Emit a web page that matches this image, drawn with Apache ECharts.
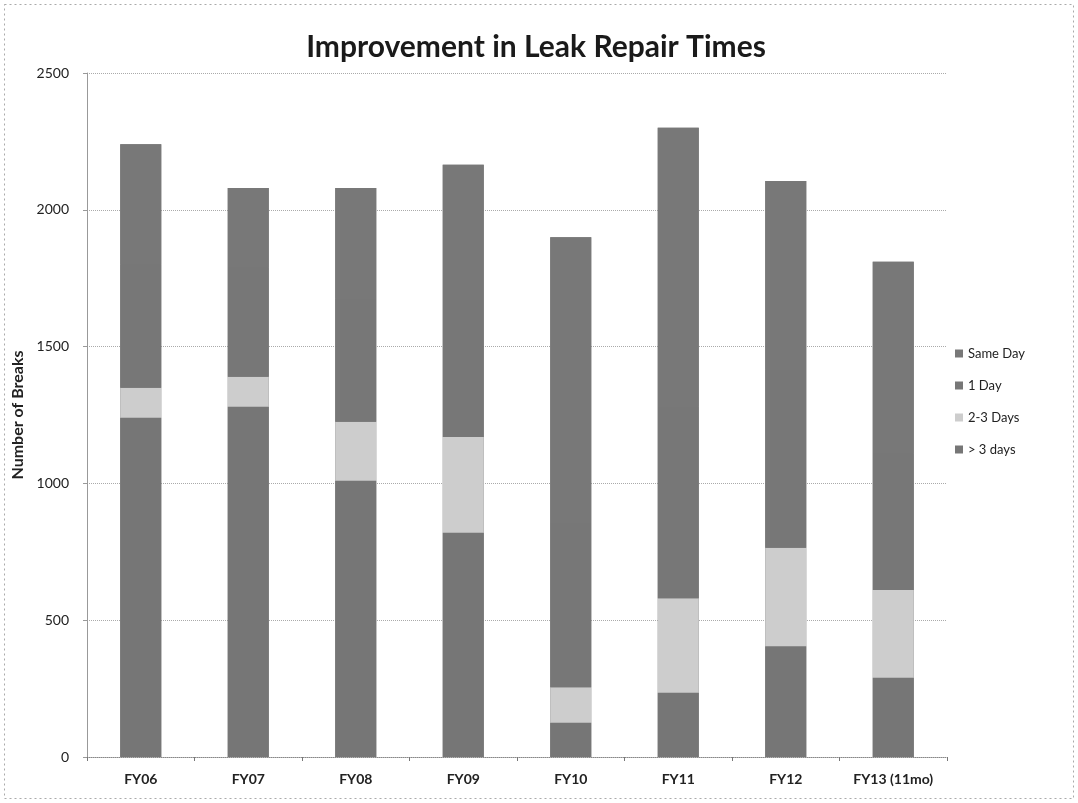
<!DOCTYPE html>
<html>
<head>
<meta charset="utf-8">
<script src="https://cdn.jsdelivr.net/npm/echarts@6/dist/echarts.min.js"></script>
<style>
  html, body { margin: 0; padding: 0; background: #fff; }
  #chart { width: 1078px; height: 803px; }
</style>
</head>
<body>
<div id="chart"></div>
<script>
// Fiscal years shown on the category axis
const categories = ['FY06', 'FY07', 'FY08', 'FY09', 'FY10', 'FY11', 'FY12', 'FY13 (11mo)'];

// Number of breaks by repair time, stacked from the bottom up
const overThreeDays = [1240, 1280, 1010, 820, 125, 235, 405, 290];
const twoToThreeDays = [110, 110, 215, 350, 130, 345, 360, 320];
const oneDay = [450, 400, 450, 500, 600, 700, 650, 500];
const sameDay = [440, 290, 405, 495, 1045, 1020, 690, 700];

const yTicks = [0, 500, 1000, 1500, 2000, 2500];

const FONT = 'Lato, "Open Sans", "Liberation Sans", sans-serif';
const BAR_WIDTH = 41;

// Yearly totals, used for a backing column so the stacked segments join without seams
const totals = categories.map((_, i) => overThreeDays[i] + twoToThreeDays[i] + oneDay[i] + sameDay[i]);

const chart = echarts.init(document.getElementById('chart'));

function barSeries(name, data, color) {
  return {
    name: name,
    type: 'bar',
    stack: 'breaks',
    data: data,
    barWidth: BAR_WIDTH,
    barGap: '-100%',
    z: 3,
    itemStyle: { color: color },
    emphasis: { disabled: true }
  };
}

chart.setOption({
  animation: false,
  backgroundColor: '#ffffff',
  title: {
    text: 'Improvement in Leak Repair Times',
    left: 531,
    textAlign: 'center',
    top: 27,
    textStyle: { fontFamily: FONT, fontWeight: 'bold', fontSize: 30, color: '#1a1a1a' }
  },
  legend: {
    orient: 'vertical',
    left: 950,
    top: 342,
    itemWidth: 8,
    itemHeight: 8,
    itemGap: 19,
    icon: 'rect',
    data: ['Same Day', '1 Day', '2-3 Days', '> 3 days'],
    textStyle: { fontFamily: FONT, fontSize: 13, color: '#222' }
  },
  grid: { left: 87, right: 131, top: 73, bottom: 46, containLabel: false },
  xAxis: {
    type: 'category',
    data: categories,
    axisLine: { show: true, lineStyle: { color: '#888', type: 'dotted', width: 1 } },
    axisTick: { show: true, alignWithLabel: false, length: 4, lineStyle: { color: '#777' } },
    axisLabel: { fontFamily: FONT, fontWeight: 'bold', fontSize: 14, color: '#222', margin: 15 }
  },
  yAxis: {
    type: 'value',
    min: yTicks[0],
    max: yTicks[yTicks.length - 1],
    interval: yTicks[1] - yTicks[0],
    name: 'Number of Breaks',
    nameLocation: 'middle',
    nameGap: 60,
    nameTextStyle: { fontFamily: FONT, fontWeight: 'bold', fontSize: 16, color: '#222' },
    axisLine: { show: true, lineStyle: { color: '#999', width: 1 } },
    axisTick: { show: true, length: 4, lineStyle: { color: '#999' } },
    axisLabel: {
      fontFamily: FONT, fontSize: 14, color: '#222', margin: 18,
      formatter: (v) => String(v)
    },
    splitLine: { show: true, lineStyle: { color: '#aaa', type: 'dotted', width: 1 } }
  },
  series: [
    {
      name: 'Total',
      type: 'bar',
      data: totals,
      barWidth: BAR_WIDTH,
      barGap: '-100%',
      z: 2,
      silent: true,
      itemStyle: { color: '#777777' },
      emphasis: { disabled: true }
    },
    barSeries('> 3 days', overThreeDays, '#767676'),
    barSeries('2-3 Days', twoToThreeDays, '#cdcdcd'),
    barSeries('1 Day', oneDay, '#777777'),
    barSeries('Same Day', sameDay, '#787878')
  ],
  graphic: [{
    type: 'rect',
    shape: { x: 4.5, y: 4.5, width: 1069, height: 794 },
    style: { fill: 'none', stroke: '#aaa', lineWidth: 1, lineDash: [2, 3] },
    silent: true
  }]
});
</script>
</body>
</html>
